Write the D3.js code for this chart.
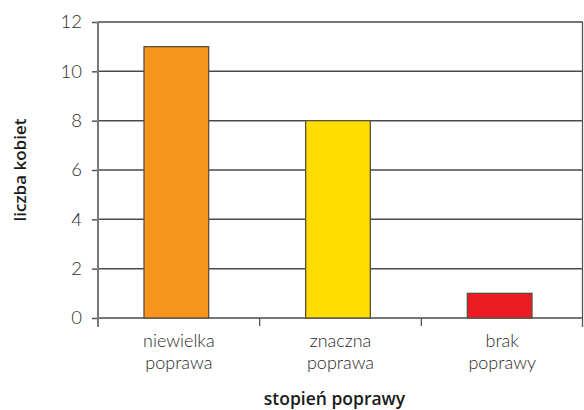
<!DOCTYPE html>
<html>
<head>
<meta charset="utf-8">
<script src="https://cdn.jsdelivr.net/npm/d3@7"></script>
<style>
  html, body { margin: 0; padding: 0; background: #fff; }
  svg { display: block; font-family: Lato, "Open Sans", sans-serif; }
</style>
</head>
<body>
<script>
// Number of women by degree of improvement
const categories = [["niewielka", "poprawa"], ["znaczna", "poprawa"], ["brak", "poprawy"]];
const values = [11, 8, 1];
const colors = ["#F7941D", "#FFDD00", "#ED1C24"];
const yTicks = [0, 2, 4, 6, 8, 10, 12];
const yTitle = "liczba kobiet";
const xTitle = "stopień poprawy";

const W = 584, H = 410;
const margin = { left: 98, right: 1, top: 22, bottom: 92 };

const svg = d3.select("body").append("svg").attr("width", W).attr("height", H);

const x = d3.scaleBand()
  .domain(d3.range(categories.length))
  .range([margin.left, W - margin.right])
  .paddingInner(0.6).paddingOuter(0.3);

const y = d3.scaleLinear().domain([0, 12]).range([H - margin.bottom, margin.top]);

const x0 = margin.left, x1 = W - margin.right;
const yBase = y(0);

// horizontal grid lines with left tick marks
const yAxis = d3.axisLeft(y).tickValues(yTicks).tickSize(6).tickPadding(10);
const gy = svg.append("g").attr("transform", `translate(${x0},0)`).call(yAxis);
gy.select(".domain").remove();
gy.selectAll(".tick line").attr("stroke", "#555").attr("stroke-width", 1.5);
gy.selectAll(".tick text")
  .attr("fill", "#2e2e2e").style("font-family", "Lato, sans-serif")
  .style("font-size", "18.5px").style("font-weight", 300);

svg.append("g").selectAll("line").data(yTicks).join("line")
  .attr("x1", x0).attr("x2", x1)
  .attr("y1", d => y(d)).attr("y2", d => y(d))
  .attr("stroke", "#4a4a4a").attr("stroke-width", 1.5);

// bars
const barShift = -2.5;
svg.append("g").selectAll("rect").data(values).join("rect")
  .attr("x", (d, i) => x(i) + barShift)
  .attr("width", x.bandwidth())
  .attr("y", d => y(d))
  .attr("height", d => yBase - y(d))
  .attr("fill", (d, i) => colors[i])
  .attr("stroke", "#5a5040").attr("stroke-width", 1.3);

// frame: left axis and right edge
svg.append("line").attr("x1", x0).attr("x2", x0)
  .attr("y1", margin.top).attr("y2", yBase + 9)
  .attr("stroke", "#777").attr("stroke-width", 2);
svg.append("line").attr("x1", x1 - 0.5).attr("x2", x1 - 0.5)
  .attr("y1", margin.top).attr("y2", yBase + 9)
  .attr("stroke", "#555").attr("stroke-width", 1.3);

// category boundary ticks
const step = x.step();
const bounds = d3.range(1, categories.length).map(i => x(i) - step * x.paddingInner() / 2);
svg.append("g").selectAll("line").data(bounds).join("line")
  .attr("x1", d => d).attr("x2", d => d)
  .attr("y1", yBase).attr("y2", yBase + 8)
  .attr("stroke", "#555").attr("stroke-width", 1.3);

// category labels, one text element per line
const labelLines = categories.flatMap((lines, i) => lines.map((t, j) => ({ i, j, t })));
svg.append("g").selectAll("text").data(labelLines).join("text")
  .attr("x", d => x(d.i) + x.bandwidth() / 2)
  .attr("y", d => yBase + 29 + d.j * 21.5)
  .attr("text-anchor", "middle")
  .attr("fill", "#2a2a2a").style("font-size", "18px").style("font-weight", 300)
  .text(d => d.t);

// axis titles
svg.append("text")
  .attr("transform", `translate(26,${(margin.top + yBase) / 2}) rotate(-90)`)
  .attr("text-anchor", "middle")
  .attr("fill", "#1a1a1a").style("font-family", "'Open Sans', sans-serif")
  .style("font-size", "17px").style("font-weight", 600)
  .text(yTitle);

svg.append("text")
  .attr("x", (x0 + x1) / 2 - 6).attr("y", H - 5)
  .attr("text-anchor", "middle")
  .attr("fill", "#1a1a1a").style("font-family", "'Open Sans', sans-serif")
  .style("font-size", "17.5px").style("font-weight", 600)
  .text(xTitle);
</script>
</body>
</html>
